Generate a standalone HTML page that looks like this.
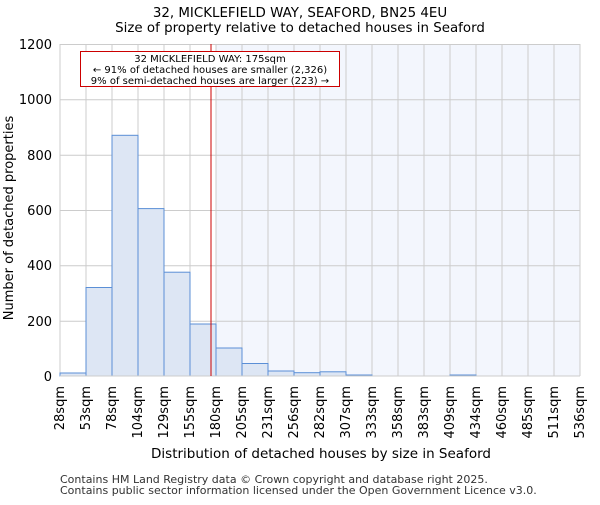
<!DOCTYPE html><html><head><style>body{margin:0;background:#fff}</style></head><body>
<svg width="600" height="500" xmlns="http://www.w3.org/2000/svg" font-family="DejaVu Sans, sans-serif">
<rect width="600" height="500" fill="#fff"/>
<text x="300" y="17" text-anchor="middle" font-size="13.4">32, MICKLEFIELD WAY, SEAFORD, BN25 4EU</text>
<text x="300" y="32" text-anchor="middle" font-size="13.4">Size of property relative to detached houses in Seaford</text>
<rect x="216" y="44" width="364" height="332" fill="#f3f6fd"/>
<g stroke="#cccccc" stroke-width="1">
<line x1="60" y1="44.5" x2="580" y2="44.5"/><line x1="60" y1="99.8" x2="580" y2="99.8"/><line x1="60" y1="155.2" x2="580" y2="155.2"/><line x1="60" y1="210.5" x2="580" y2="210.5"/><line x1="60" y1="265.8" x2="580" y2="265.8"/><line x1="60" y1="321.2" x2="580" y2="321.2"/>
<line x1="60" y1="44" x2="60" y2="376"/><line x1="86" y1="44" x2="86" y2="376"/><line x1="112" y1="44" x2="112" y2="376"/><line x1="138" y1="44" x2="138" y2="376"/><line x1="164" y1="44" x2="164" y2="376"/><line x1="190" y1="44" x2="190" y2="376"/><line x1="216" y1="44" x2="216" y2="376"/><line x1="242" y1="44" x2="242" y2="376"/><line x1="268" y1="44" x2="268" y2="376"/><line x1="294" y1="44" x2="294" y2="376"/><line x1="320" y1="44" x2="320" y2="376"/><line x1="346" y1="44" x2="346" y2="376"/><line x1="372" y1="44" x2="372" y2="376"/><line x1="398" y1="44" x2="398" y2="376"/><line x1="424" y1="44" x2="424" y2="376"/><line x1="450" y1="44" x2="450" y2="376"/><line x1="476" y1="44" x2="476" y2="376"/><line x1="502" y1="44" x2="502" y2="376"/><line x1="528" y1="44" x2="528" y2="376"/><line x1="554" y1="44" x2="554" y2="376"/><line x1="580" y1="44" x2="580" y2="376"/>
</g>
<g fill="#dde6f4" stroke="#5b8fd6" stroke-width="1">
<rect x="60" y="373" width="26" height="3"/>
<rect x="86" y="287.5" width="26" height="88.5"/>
<rect x="112" y="135.3" width="26" height="240.7"/>
<rect x="138" y="208.6" width="26" height="167.4"/>
<rect x="164" y="272.2" width="26" height="103.8"/>
<rect x="190" y="324" width="26" height="52"/>
<rect x="216" y="348" width="26" height="28"/>
<rect x="242" y="363.5" width="26" height="12.5"/>
<rect x="268" y="371" width="26" height="5"/>
<rect x="294" y="372.7" width="26" height="3.3"/>
<rect x="320" y="371.8" width="26" height="4.2"/>
<rect x="346" y="375" width="26" height="1"/>
<rect x="450" y="375" width="26" height="1"/>
</g>
<line x1="60" y1="376" x2="580" y2="376" stroke="#ccc"/>
<line x1="211" y1="44" x2="211" y2="376" stroke="#cc0000" stroke-width="1"/>
<rect x="80.5" y="51.5" width="259" height="35" fill="#fff" stroke="#cc0000"/>
<g font-size="10" text-anchor="middle"><text x="210" y="62">32 MICKLEFIELD WAY: 175sqm</text><text x="210" y="73">← 91% of detached houses are smaller (2,326)</text><text x="210" y="84">9% of semi-detached houses are larger (223) →</text></g>
<g font-size="13" text-anchor="end"><text x="52" y="49">1200</text><text x="52" y="104">1000</text><text x="52" y="160">800</text><text x="52" y="215">600</text><text x="52" y="270">400</text><text x="52" y="326">200</text><text x="52" y="381">0</text></g>
<g font-size="13" text-anchor="end">
<text transform="translate(64,386) rotate(-90)">28sqm</text><text transform="translate(90,386) rotate(-90)">53sqm</text><text transform="translate(116,386) rotate(-90)">78sqm</text><text transform="translate(142,386) rotate(-90)">104sqm</text><text transform="translate(168,386) rotate(-90)">129sqm</text><text transform="translate(194,386) rotate(-90)">155sqm</text><text transform="translate(220,386) rotate(-90)">180sqm</text><text transform="translate(246,386) rotate(-90)">205sqm</text><text transform="translate(272,386) rotate(-90)">231sqm</text><text transform="translate(298,386) rotate(-90)">256sqm</text><text transform="translate(324,386) rotate(-90)">282sqm</text><text transform="translate(350,386) rotate(-90)">307sqm</text><text transform="translate(376,386) rotate(-90)">333sqm</text><text transform="translate(402,386) rotate(-90)">358sqm</text><text transform="translate(428,386) rotate(-90)">383sqm</text><text transform="translate(454,386) rotate(-90)">409sqm</text><text transform="translate(480,386) rotate(-90)">434sqm</text><text transform="translate(506,386) rotate(-90)">460sqm</text><text transform="translate(532,386) rotate(-90)">485sqm</text><text transform="translate(558,386) rotate(-90)">511sqm</text><text transform="translate(584,386) rotate(-90)">536sqm</text>
</g>
<text transform="translate(13,218) rotate(-90)" text-anchor="middle" font-size="13">Number of detached properties</text>
<text x="321" y="458" text-anchor="middle" font-size="13.5">Distribution of detached houses by size in Seaford</text>
<text x="60" y="483" font-size="11" fill="#333">Contains HM Land Registry data © Crown copyright and database right 2025.</text>
<text x="60" y="494" font-size="11" fill="#333">Contains public sector information licensed under the Open Government Licence v3.0.</text>
</svg></body></html>
